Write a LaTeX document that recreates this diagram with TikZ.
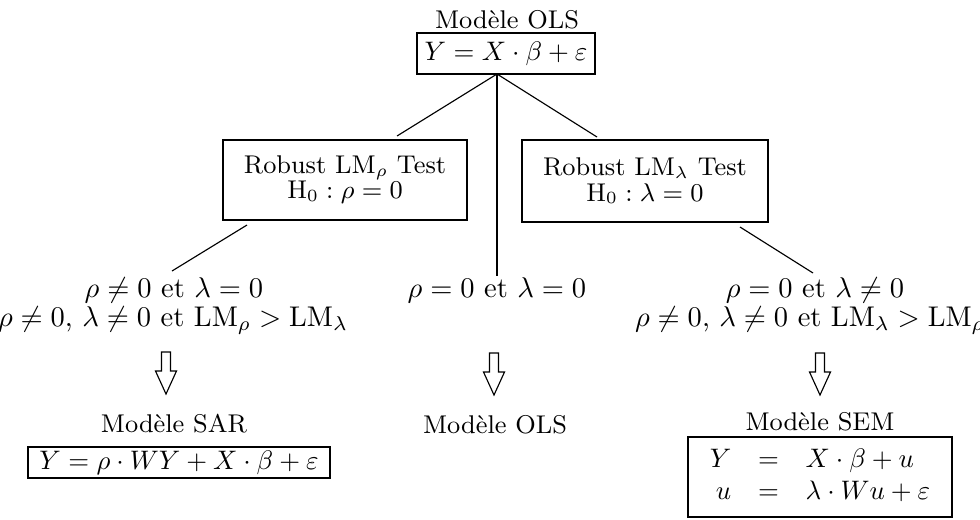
\documentclass[tikz,border=0pt]{standalone}
\usepackage{amsmath,amssymb}
\usepackage{graphicx}

\newcommand{\formule}[1]{\scalebox{0.94}{$#1$}}

\tikzset{
  boite/.style={draw, line width=0.5pt, inner sep=0pt, align=center},
  titre/.style={inner sep=0pt, anchor=base, font=\small},
  cond/.style={inner sep=0pt, anchor=base},
  trait/.style={line width=0.4pt},
  fleche/.pic={
    \draw[line width=0.4pt] (-4.5,0) -- (4.5,0) -- (4.5,19) -- (10.5,19) -- (0,42)
      -- (-10.5,19) -- (-4.5,19) -- cycle;
  }
}

\begin{document}
\begin{tikzpicture}[x=0.351pt, y=-0.351pt]
    \useasboundingbox (0,0) rectangle (980,519);

    % Modele de depart
    \node[titre] (titreols) at (507,28) {Modèle OLS};
    \node[boite, minimum width=62.5pt, minimum height=14.4pt] (ols) at (506,53.5)
        {\formule{Y = X\cdot\beta+\varepsilon}};
    \coordinate (sommet) at (497,74);

    % Tests robustes
    \node[boite, minimum width=85.6pt, minimum height=28.1pt,
          font=\fontsize{9pt}{8.8pt}\selectfont] (lmrho) at (345,180)
        {Robust LM$_\rho$ Test\\ $\mathrm{H}_0:\rho=0$};
    \node[boite, minimum width=86.3pt, minimum height=28.8pt,
          font=\fontsize{9pt}{8.8pt}\selectfont] (lmlambda) at (645,181)
        {Robust LM$_\lambda$ Test\\ $\mathrm{H}_0:\lambda=0$};

    % Conditions
    \node[cond] (condsar1) at (174,297) {$\rho\neq 0$ et $\lambda=0$};
    \node[cond] (condsar2) at (173,326)
        {$\rho\neq 0$, $\lambda\neq 0$ et $\mathrm{LM}_\rho>\mathrm{LM}_\lambda$};
    \node[cond] (condols) at (497,297) {$\rho=0$ et $\lambda=0$};
    \node[cond] (condsem1) at (815,297) {$\rho=0$ et $\lambda\neq 0$};
    \node[cond] (condsem2) at (810,326)
        {$\rho\neq 0$, $\lambda\neq 0$ et $\mathrm{LM}_\lambda>\mathrm{LM}_\rho$};

    % Traits
    \coordinate (finrho) at (397,136);
    \coordinate (finlambda) at (597,137);
    \coordinate (finols) at (497,276);
    \coordinate (debsar) at (247,225);
    \coordinate (finsar) at (172,271);
    \coordinate (debsem) at (740,227);
    \coordinate (finsem) at (813,273);
    \draw[trait] (sommet) -- (finrho);
    \draw[trait] (sommet) -- (finlambda);
    \draw[trait] (sommet) -- (finols);
    \draw[trait] (debsar) -- (finsar);
    \draw[trait] (debsem) -- (finsem);

    % Fleches
    \pic at (166,352) {fleche};
    \pic at (494,353) {fleche};
    \pic at (820,353) {fleche};

    % Modeles retenus
    \node[titre] (titresar) at (174,432) {Modèle SAR};
    \node[boite, minimum width=106pt, minimum height=10.9pt] (sar) at (179,462.5)
        {\formule{Y=\rho\cdot WY+X\cdot\beta+\varepsilon}};
    \node[titre] (titreols2) at (495,433) {Modèle OLS};
    \node[titre] (titresem) at (820,430) {Modèle SEM};
    \node[boite, minimum width=92.7pt, minimum height=28.1pt] (sem) at (820,477)
        {\formule{\begin{array}{rcl} Y & = & X\cdot\beta+u\\ u & = & \lambda\cdot Wu+\varepsilon\end{array}}};
\end{tikzpicture}
\end{document}
